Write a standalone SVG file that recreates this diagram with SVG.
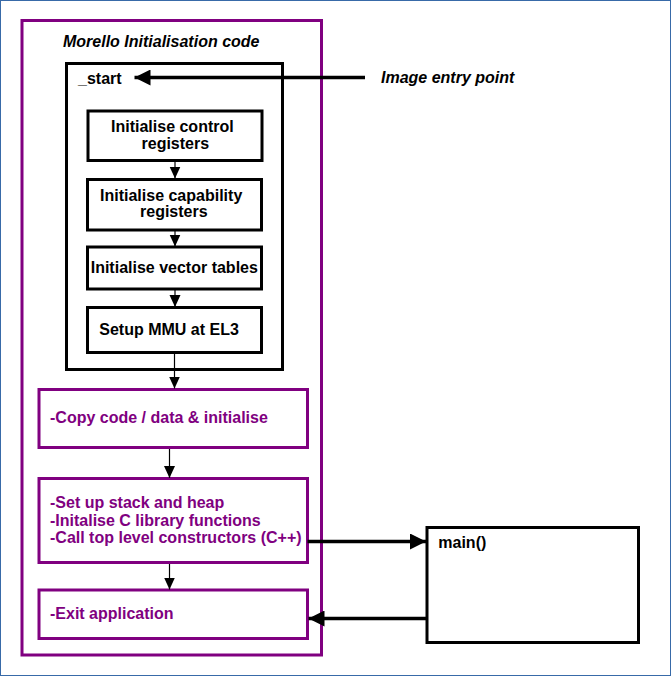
<svg xmlns="http://www.w3.org/2000/svg" width="672" height="676" viewBox="0 0 672 676">
<style>
text{font-family:"Liberation Sans",Arial,sans-serif;font-weight:bold;font-size:16px;fill:#000}
.it{font-style:italic}
.pt{fill:#800080}
.bk{fill:#fff;stroke:#000;stroke-width:3}
.pu{fill:#fff;stroke:#800080;stroke-width:3}
.thin{stroke:#000;stroke-width:1.2;fill:none}
.thick{stroke:#000;stroke-width:3.5;fill:none}
</style>
<defs>
<marker id="sh" markerUnits="userSpaceOnUse" markerWidth="12" markerHeight="12" viewBox="0 0 12 12" refX="12" refY="6" orient="auto">
<path d="M0,0.5 L12,6 L0,11.5 Z" fill="#000"/>
</marker>
<marker id="bh" markerUnits="userSpaceOnUse" markerWidth="16" markerHeight="16" viewBox="0 0 16 16" refX="16" refY="8" orient="auto">
<path d="M0,0 L16,8 L0,16 Z" fill="#000"/>
</marker>
</defs>
<rect x="0.5" y="0.5" width="670" height="675" fill="#fff" stroke="#386AA8" stroke-width="1"/>
<g id="init-code">
<rect class="pu" x="22" y="20.5" width="299.5" height="634.5"/>
<text class="it" x="63" y="47">Morello Initialisation code</text>
</g>
<g id="start">
<rect class="bk" x="66.5" y="63.5" width="216" height="306"/>
<text x="78" y="83.5">_start</text>
</g>
<g id="ctrl">
<rect class="bk" x="88" y="111" width="174" height="49.5"/>
<text x="111" y="131.7">Initialise control</text>
<text x="141.5" y="149">registers</text>
</g>
<g id="cap">
<rect class="bk" x="87.5" y="179.5" width="174" height="50.5"/>
<text x="100" y="200.7">Initialise capability</text>
<text x="140" y="217.3">registers</text>
</g>
<g id="vec">
<rect class="bk" x="87.5" y="247" width="174" height="42"/>
<text x="90.7" y="273.3">Initialise vector tables</text>
</g>
<g id="mmu">
<rect class="bk" x="87.5" y="307.5" width="174" height="45"/>
<text x="99.3" y="335">Setup MMU at EL3</text>
</g>
<g id="copy">
<rect class="pu" x="39" y="389.5" width="268.5" height="58"/>
<text class="pt" x="50" y="423.3">-Copy code / data &amp; initialise</text>
</g>
<g id="setup">
<rect class="pu" x="39" y="478.5" width="268.5" height="84"/>
<text class="pt" x="50" y="508.3">-Set up stack and heap</text>
<text class="pt" x="50" y="525.8">-Initalise C library functions</text>
<text class="pt" x="50" y="543.3">-Call top level constructors (C++)</text>
</g>
<g id="exit">
<rect class="pu" x="39" y="590" width="268.5" height="48.5"/>
<text class="pt" x="50" y="619.3">-Exit application</text>
</g>
<g id="main">
<rect class="bk" x="427" y="527.5" width="211.5" height="115"/>
<text x="438.3" y="548.3">main()</text>
</g>
<text class="it" x="381" y="82.7">Image entry point</text>
<g id="connectors">
<line class="thick" x1="365" y1="77.5" x2="134.5" y2="77.5" marker-end="url(#bh)"/>
<line class="thin" x1="175" y1="161" x2="175" y2="178.5" marker-end="url(#sh)"/>
<line class="thin" x1="175" y1="231" x2="175" y2="246.5" marker-end="url(#sh)"/>
<line class="thin" x1="175" y1="290" x2="175" y2="307" marker-end="url(#sh)"/>
<line class="thin" x1="174.5" y1="353" x2="174.5" y2="388.5" marker-end="url(#sh)"/>
<line class="thin" x1="169.5" y1="449" x2="169.5" y2="478" marker-end="url(#sh)"/>
<line class="thin" x1="169.5" y1="564" x2="169.5" y2="589.5" marker-end="url(#sh)"/>
<line class="thick" x1="307.5" y1="541.5" x2="426" y2="541.5" marker-end="url(#bh)"/>
<line class="thick" x1="426" y1="618.5" x2="308.5" y2="618.5" marker-end="url(#bh)"/>
</g>
</svg>
